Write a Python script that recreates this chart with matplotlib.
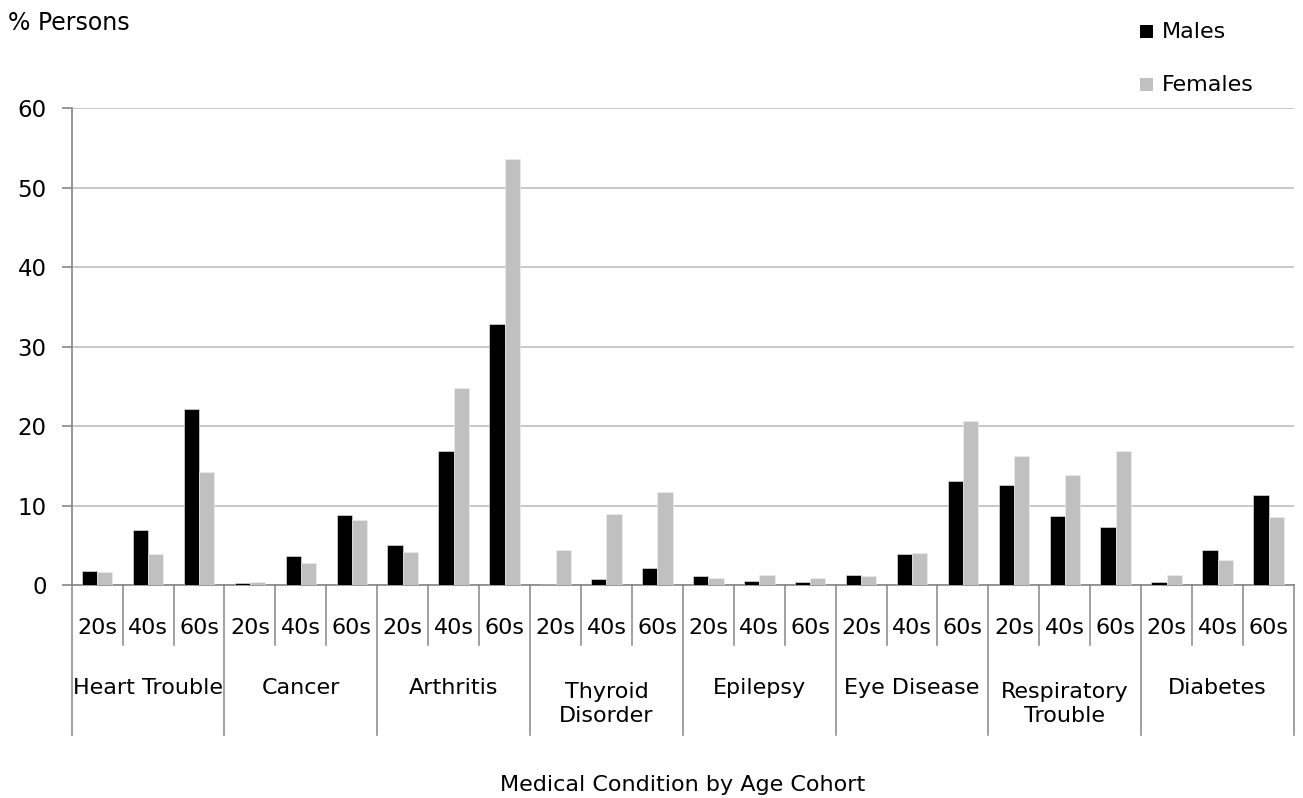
import matplotlib
matplotlib.use("Agg")
import matplotlib.pyplot as plt
import matplotlib.transforms as mtransforms
from matplotlib.patches import Rectangle
import numpy as np

plt.rcParams['font.family'] = ['DejaVu Sans']

conditions = ["Heart Trouble", "Cancer", "Arthritis", "Thyroid\nDisorder", "Epilepsy",
              "Eye Disease", "Respiratory\nTrouble", "Diabetes"]
ages = ["20s", "40s", "60s"]

# % of persons with each condition, ordered condition by condition, 20s/40s/60s
males = [1.7, 6.9, 22.1,
         0.2, 3.6, 8.8,
         5.0, 16.9, 32.9,
         0.1, 0.7, 2.1,
         1.1, 0.55, 0.35,
         1.25, 3.9, 13.1,
         12.6, 8.7, 7.3,
         0.35, 4.45, 11.35]
females = [1.65, 3.9, 14.2,
           0.4, 2.8, 8.2,
           4.2, 24.8, 53.6,
           4.45, 8.9, 11.7,
           0.9, 1.25, 0.9,
           1.1, 4.05, 20.6,
           16.2, 13.9, 16.9,
           1.25, 3.2, 8.5]
yticks = [0, 10, 20, 30, 40, 50, 60]

W, H = 1303, 798
fig = plt.figure(figsize=(W / 100, H / 100), dpi=100)
ax = fig.add_axes([71.7 / W, 1 - 585 / H, (1294 - 71.7) / W, (585 - 108.3) / H])

x = np.arange(len(males))
bw = 0.3
ax.bar(x - bw / 2, males, bw, color="#000000", edgecolor="#f0f0f0", linewidth=0.4, zorder=3, label="Males")
ax.bar(x + bw / 2, females, bw, color="#c0c0c0", edgecolor="#f0f0f0", linewidth=0.4, zorder=3, label="Females")

ax.set_xlim(-0.5, len(males) - 0.5)
ax.set_ylim(0, 60)
ax.set_yticks(yticks)
ax.set_yticklabels([str(v) for v in yticks], fontsize=16.5)
ax.yaxis.grid(True, color="#c8c8c8", linewidth=1.4, zorder=0)
ax.set_axisbelow(True)

axis_col = "#868686"
for s in ["top", "right"]:
    ax.spines[s].set_visible(False)
ax.spines["left"].set_color(axis_col)
ax.spines["bottom"].set_color(axis_col)
ax.spines["left"].set_linewidth(1.2)
ax.spines["bottom"].set_linewidth(1.2)
ax.tick_params(axis="y", direction="out", length=7, width=1.2, color=axis_col, pad=11)
ax.set_xticks([])

ah = 585 - 108.3
def yax(py):
    return (585 - py) / ah

trans = mtransforms.blended_transform_factory(ax.transData, ax.transAxes)

# age cohort labels and short separators
for i in range(len(males)):
    ax.text(i, yax(628), ages[i % 3], transform=trans, ha="center", va="center",
            fontsize=16)
for b in range(len(males) + 1):
    edge = b - 0.5
    bottom = yax(735) if b % 3 == 0 else yax(645)
    ax.plot([edge, edge], [0, bottom], transform=trans, color=axis_col,
            linewidth=1.1, clip_on=False)

# condition labels
for c, name in enumerate(conditions):
    cy = 688 if "\n" not in name else 704
    ax.text(3 * c + 1, yax(cy), name, transform=trans, ha="center", va="center",
            fontsize=16, linespacing=1.25)

fig.text(683 / W, 1 - 785 / H, "Medical Condition by Age Cohort", ha="center",
         va="center", fontsize=16)
fig.text(8 / W, 1 - 23 / H, "% Persons", ha="left", va="center", fontsize=17)

# legend
for label, col, py in [("Males", "#000000", 32), ("Females", "#c0c0c0", 85)]:
    fig.patches.append(Rectangle((1140 / W, 1 - (py + 6) / H), 13 / W, 13 / H,
                                 transform=fig.transFigure, facecolor=col,
                                 edgecolor="none"))
    fig.text(1162 / W, 1 - py / H, label, ha="left", va="center", fontsize=16)

fig.savefig("out.png", dpi=100)
